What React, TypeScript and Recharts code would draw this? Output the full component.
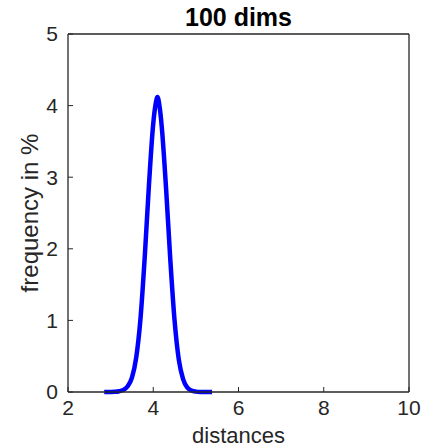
import React from 'react';
import { LineChart, Line, XAxis, YAxis, Label } from 'recharts';

// distance values
const distances = [
  2.85, 3.0, 3.1, 3.2, 3.3, 3.4, 3.5, 3.6, 3.7, 3.8, 3.9, 4.0, 4.05, 4.1,
  4.15, 4.2, 4.3, 4.4, 4.5, 4.6, 4.7, 4.8, 4.9, 5.0, 5.1, 5.38,
];
const frequency = [
  0, 0, 0.002, 0.01, 0.03, 0.08, 0.2, 0.48, 1.02, 1.88, 2.9, 3.75, 4.0, 4.12,
  3.98, 3.7, 2.85, 1.85, 1.0, 0.45, 0.18, 0.06, 0.02, 0.005, 0, 0,
];
const xTicks = [2, 4, 6, 8, 10];
const yTicks = [0, 1, 2, 3, 4, 5];

const data = distances.map((x, i) => ({ x, y: frequency[i] }));

const FONT = '"Liberation Sans", Arial, Helvetica, sans-serif';
const AXIS = '#262626';

const tickStyle = { fontSize: 21, fill: AXIS, fontFamily: FONT };

const XTitle = ({ viewBox }: any) => (
  <text
    x={viewBox.x + viewBox.width / 2}
    y={443}
    textAnchor="middle"
    fontSize={22}
    fill={AXIS}
    fontFamily={FONT}
  >
    distances
  </text>
);

const YTitle = ({ viewBox }: any) => {
  const cx = 29;
  const cy = viewBox.y + viewBox.height / 2;
  return (
    <text
      x={cx}
      y={cy}
      transform={`rotate(-90, ${cx}, ${cy})`}
      textAnchor="middle"
      dominantBaseline="central"
      fontSize={24}
      fill={AXIS}
      fontFamily={FONT}
    >
      frequency in %
    </text>
  );
};

const Title = ({ viewBox }: any) => (
  <text
    x={viewBox.x + viewBox.width / 2}
    y={26}
    textAnchor="middle"
    fontSize={25}
    fontWeight="bold"
    fill="#000"
    fontFamily={FONT}
  >
    100 dims
  </text>
);

export default function App() {
  return (
    <div style={{ position: 'fixed', left: 0, top: 0, width: 422, height: 448, background: '#fff' }}>
      <LineChart
        width={422}
        height={448}
        data={data}
        margin={{ top: 4, right: 3, bottom: 0, left: 0 }}
      >
        <XAxis
          dataKey="x"
          type="number"
          domain={[2, 10]}
          ticks={xTicks}
          height={56}
          tickSize={-5}
          tickMargin={13}
          tick={tickStyle}
          stroke={AXIS}
          axisLine={{ stroke: AXIS, strokeWidth: 1.3 }}
          tickLine={{ stroke: AXIS }}
        >
          <Label content={XTitle} />
        </XAxis>
        <XAxis
          xAxisId="top"
          orientation="top"
          dataKey="x"
          type="number"
          domain={[2, 10]}
          ticks={xTicks}
          height={30}
          tickSize={-5}
          tick={false}
          stroke={AXIS}
          axisLine={{ stroke: AXIS, strokeWidth: 1.3 }}
        >
          <Label content={Title} />
        </XAxis>
        <YAxis
          type="number"
          domain={[0, 5]}
          ticks={yTicks}
          width={68}
          tickSize={-5}
          tickMargin={15}
          tick={tickStyle}
          stroke={AXIS}
          axisLine={{ stroke: AXIS, strokeWidth: 1.3 }}
        >
          <Label content={YTitle} />
        </YAxis>
        <YAxis
          yAxisId="right"
          orientation="right"
          type="number"
          domain={[0, 5]}
          ticks={yTicks}
          width={10}
          tickSize={-5}
          tick={false}
          stroke={AXIS}
          axisLine={{ stroke: AXIS, strokeWidth: 1.3 }}
        />
        <Line
          type="monotone"
          dataKey="y"
          stroke="#0000ff"
          strokeWidth={4.5}
          dot={false}
          isAnimationActive={false}
        />
      </LineChart>
    </div>
  );
}
